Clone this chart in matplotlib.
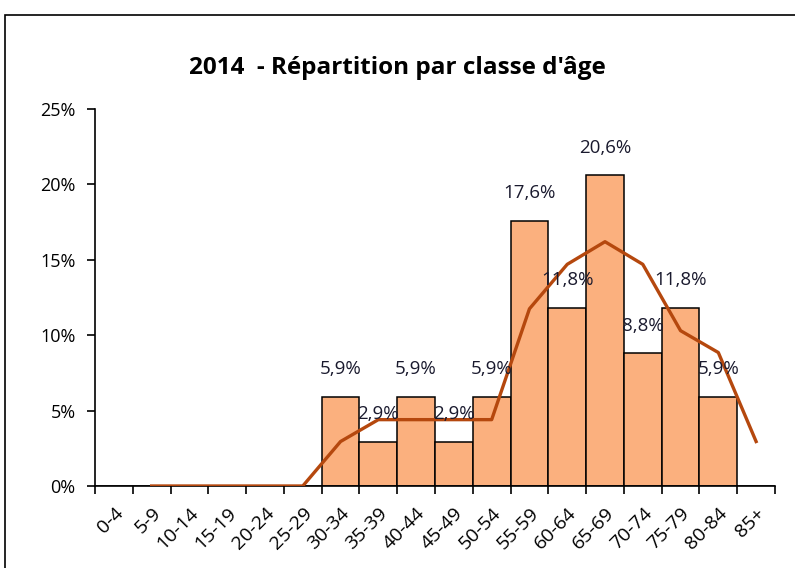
import matplotlib.pyplot as plt
from matplotlib.patches import Rectangle
from matplotlib.transforms import ScaledTranslation

plt.rcParams['font.family'] = ['Open Sans', 'DejaVu Sans']

classes = ['0-4', '5-9', '10-14', '15-19', '20-24', '25-29', '30-34', '35-39', '40-44',
           '45-49', '50-54', '55-59', '60-64', '65-69', '70-74', '75-79', '80-84', '85+']
pct = [0, 0, 0, 0, 0, 0, 5.9, 2.9, 5.9, 2.9, 5.9, 17.6, 11.8, 20.6, 8.8, 11.8, 5.9, 0]
# moyenne mobile sur 2 periodes
moy = [0, 0, 0, 0, 0, 2.95, 4.4, 4.4, 4.4, 4.4, 11.75, 14.7, 16.2, 14.7, 10.3, 8.85, 2.95]

fig = plt.figure(figsize=(7.95, 5.68), dpi=100)
fig.patches.append(Rectangle((5/795, -0.1), 1.1, 1 - 15/568 + 0.1, transform=fig.transFigure,
                             fill=False, edgecolor='black', linewidth=1.2))
ax = fig.add_axes([95/795, 1 - 486/568, 680/795, 377/568])

x = range(len(classes))
ax.bar(x, pct, width=1.0, color='#FBB07E', edgecolor='black', linewidth=1.1, zorder=2)
ax.plot(range(1, len(classes)), moy, color='#B5480E', linewidth=2.4, zorder=3)

for i, v in enumerate(pct):
    if v > 0:
        ax.annotate(('%.1f%%' % v).replace('.', ','), (i, v), xytext=(0, 20),
                    textcoords='offset points', ha='center', va='center',
                    fontsize=13.5, color='#1a1a2e', zorder=4)

ax.set_xlim(-0.5, len(classes) - 0.5)
ax.set_ylim(0, 25)
ax.set_yticks([0, 5, 10, 15, 20, 25])
ax.set_yticklabels(['0%', '5%', '10%', '15%', '20%', '25%'], fontsize=13)
ax.set_xticks([i - 0.5 for i in range(len(classes) + 1)], minor=True)
ax.set_xticks(list(x))
ax.set_xticklabels(classes, rotation=45, ha='right', rotation_mode='anchor', fontsize=14)
shift = ScaledTranslation(16/100, 0, fig.dpi_scale_trans)
for lab in ax.get_xticklabels():
    lab.set_transform(lab.get_transform() + shift)
ax.tick_params(axis='x', which='major', length=0, pad=13)
ax.tick_params(axis='x', which='minor', length=6, width=1.2, direction='out')
ax.tick_params(axis='y', length=6, width=1.2, direction='out', pad=8)
for s in ['top', 'right']:
    ax.spines[s].set_visible(False)
ax.spines['left'].set_linewidth(1.2)
ax.spines['bottom'].set_linewidth(1.2)

fig.text(0.5, 1 - 68/568, "2014  - Répartition par classe d'âge", ha='center', va='center',
         fontsize=17.5, fontweight='bold')

plt.savefig('out.png', dpi=100)
